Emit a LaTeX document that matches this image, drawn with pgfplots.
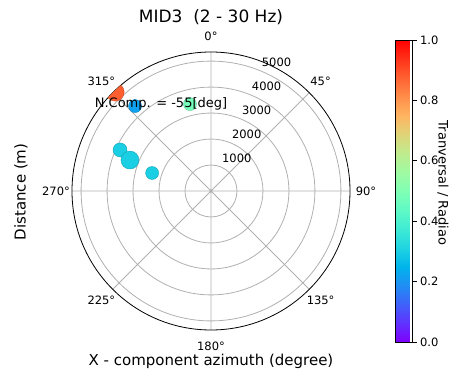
\documentclass[border=0pt]{standalone}
\usepackage{fontspec}
\setmainfont{DejaVu Sans}
\usepackage{pgfplots}
\usepackage{pgfplotstable}
\usepgfplotslibrary{polar}
\pgfplotsset{compat=1.18}

\definecolor{gridgray}{HTML}{B0B0B0}

% matplotlib "rainbow" colormap, sampled every 1/16
\pgfplotsset{
  colormap={mplrainbow}{
    rgb=(0.5,0,1) rgb=(0.375,0.195,0.995) rgb=(0.25,0.383,0.981)
    rgb=(0.125,0.556,0.957) rgb=(0,0.707,0.924) rgb=(0.125,0.831,0.882)
    rgb=(0.25,0.924,0.831) rgb=(0.375,0.981,0.773) rgb=(0.5,1,0.707)
    rgb=(0.625,0.981,0.634) rgb=(0.75,0.924,0.556) rgb=(0.875,0.831,0.471)
    rgb=(1,0.707,0.383) rgb=(1,0.556,0.290) rgb=(1,0.383,0.195)
    rgb=(1,0.195,0.098) rgb=(1,0,0)
  }
}

% azimuth (deg, clockwise from north), distance (m), ratio, marker radius (pt)
\pgfplotstableread{
az     r     c     s
294.3  3840  0.30  7
290.9  3340  0.30  9
287.0  2370  0.30  6.5
346.4  3440  0.48  6.5
318.2  4385  0.22  6.5
315.9  5300  0.88  9
}\sources

\begin{document}
\begin{tikzpicture}
\begin{polaraxis}[
  name=pol,
  scale only axis, width=278pt, height=278pt,
  ymin=0, ymax=5350,
  xtick={0,45,...,315},
  xticklabels={},
  ytick={1000,2000,3000,4000,5000},
  yticklabels={},
  grid=major,
  major grid style={draw=gridgray, line width=0.8pt},
  axis line style={black, line width=0.8pt},
  y axis line style={draw=none},
  major tick length=0pt,
  colormap name=mplrainbow,
  point meta min=0, point meta max=1,
  clip marker paths=true,
]
\addplot[scatter, only marks, mark=*, point meta=explicit,
  visualization depends on={\thisrow{s} \as \msize},
  scatter/@pre marker code/.append style={/tikz/mark size=\msize}]
  table[x expr={90-\thisrow{az}}, y=r, meta=c] {\sources};
\coordinate (c) at (axis cs:0,0);
\coordinate (r1) at (axis cs:67.5,1000);
\coordinate (r2) at (axis cs:67.5,2000);
\coordinate (r3) at (axis cs:67.5,3000);
\coordinate (r4) at (axis cs:67.5,4000);
\coordinate (r5) at (axis cs:67.5,5000);
\end{polaraxis}

% azimuth labels, clockwise from north
\foreach \a/\lab in {90/0°,45/45°,0/90°,-45/135°,-90/180°,-135/225°,180/270°,135/315°}
  \node[font=\fontsize{11.5}{13}\selectfont, inner sep=0pt] at ([shift={(\a:155pt)}]c) {\lab};

% radial distance labels
\foreach \k/\v in {1/1000,2/2000,3/3000,4/4000,5/5000}
  \node[anchor=south west, inner sep=0pt, xshift=1pt, yshift=4pt,
        font=\fontsize{11.5}{13}\selectfont] at (r\k) {\v};

% colour scale
\begin{axis}[
  at={(c)}, anchor=center,
  hide axis, scale only axis, width=1pt, height=1pt,
  colormap name=mplrainbow,
  point meta min=0, point meta max=1,
  colorbar,
  colorbar style={
    at={(parent axis.center)}, anchor=north west,
    xshift=176pt, yshift=151pt,
    scale only axis, width=17pt, height=302pt,
    ytick={0,0.2,0.4,0.6,0.8,1},
    ytick pos=right, yticklabel pos=right,
    tick align=outside, major tick length=4pt,
    tick style={black, line width=0.8pt},
    axis line style={line width=0.6pt},
    yticklabel style={font=\fontsize{11.5}{13}\selectfont,
      /pgf/number format/.cd, fixed, fixed zerofill, precision=1,
      /pgf/number format/assume math mode=true},
  },
]
\addplot[draw=none] coordinates {(0,0)};
\end{axis}

\node[font=\fontsize{17}{20}\selectfont] at ([shift={(0pt,174pt)}]c) {MID3\ \ (2 - 30 Hz)};
\node[font=\fontsize{15}{18}\selectfont] at ([shift={(0pt,-170pt)}]c) {X - component azimuth (degree)};
\node[font=\fontsize{15}{18}\selectfont, rotate=90] at ([shift={(-190pt,-1pt)}]c) {Distance (m)};
\node[font=\fontsize{13}{16}\selectfont, rotate=-90] at ([shift={(232pt,8pt)}]c) {Tranversal / Radiao};
\node[font=\fontsize{13}{16}\selectfont] at ([shift={(-50pt,87pt)}]c) {N.Comp. = -55[deg]};

\pgfresetboundingbox
\path[use as bounding box] ([shift={(-211pt,-187pt)}]c) rectangle ([shift={(240pt,191pt)}]c);
\end{tikzpicture}
\end{document}
